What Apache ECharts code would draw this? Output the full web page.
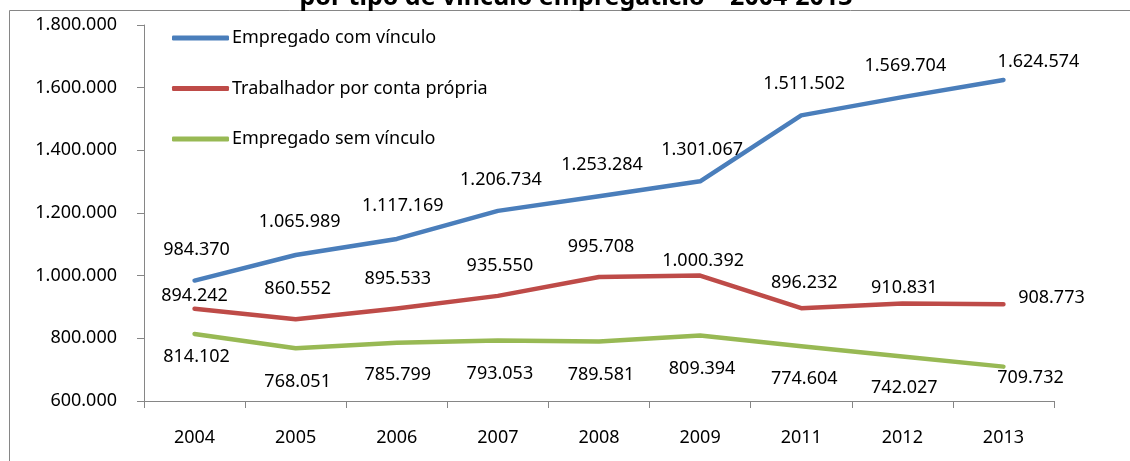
<!DOCTYPE html>
<html>
<head>
<meta charset="utf-8">
<script src="https://cdn.jsdelivr.net/npm/echarts@6/dist/echarts.min.js"></script>
<style>
html,body{margin:0;padding:0;background:#fff;}
#chart{width:1130px;height:461px;}
</style>
</head>
<body>
<div id="chart"></div>
<script>
const categories = ['2004','2005','2006','2007','2008','2009','2011','2012','2013'];
const comVinculo = [984370, 1065989, 1117169, 1206734, 1253284, 1301067, 1511502, 1569704, 1624574];
const contaPropria = [894242, 860552, 895533, 935550, 995708, 1000392, 896232, 910831, 908773];
const semVinculo = [814102, 768051, 785799, 793053, 789581, 809394, 774604, 742027, 709732];
const seriesNames = ['Empregado com vínculo', 'Trabalhador por conta própria', 'Empregado sem vínculo'];
const titleText = 'por tipo de vínculo empregatício – 2004-2013';

// label offsets (style only)
const offBlue = [[2,-31],[4,-33],[6,-33],[3,-31],[3,-31],[2,-31],[3,-32],[3,-31],[35,-18]];
const offRed = [[0,-13],[2,-30],[1,-30],[2,-30],[2,-30],[3,-15],[3,-25],[2,-16],[48,-6]];
const offGreen = [[2,23],[2,34],[1,32],[2,33],[2,33],[2,33],[3,33],[2,31],[27,11]];

const FONT = '"Noto Sans", "Open Sans", sans-serif';
const fmt = v => String(v).replace(/\B(?=(\d{3})+(?!\d))/g, '.');

function mk(values, offs) {
  return values.map((v, i) => ({
    value: v,
    label: { offset: offs[i] }
  }));
}

function series(name, values, offs, color) {
  return {
    name: name,
    type: 'line',
    data: mk(values, offs),
    symbol: 'circle',
    symbolSize: 1,
    showSymbol: true,
    itemStyle: { color: color },
    lineStyle: { color: color, width: 4.5, cap: 'round', join: 'round' },
    label: {
      show: true,
      position: 'inside',
      formatter: p => fmt(p.value),
      color: '#000',
      fontFamily: FONT,
      fontSize: 18,
      lineHeight: 20
    },
    emphasis: { disabled: true },
    animation: false
  };
}

const chart = echarts.init(document.getElementById('chart'), null, { renderer: 'canvas' });
chart.setOption({
  animation: false,
  backgroundColor: '#fff',
  grid: { left: 144, right: 76, top: 25, bottom: 60, containLabel: false },
  legend: {
    orient: 'vertical',
    left: 167,
    top: 23,
    icon: 'roundRect',
    itemWidth: 57,
    itemHeight: 5,
    itemGap: 30.5,
    textStyle: { fontFamily: FONT, fontSize: 18, lineHeight: 20, color: '#000', padding: [0,0,0,-2] },
    data: seriesNames,
    selectedMode: false
  },
  xAxis: {
    type: 'category',
    data: categories,
    boundaryGap: true,
    axisLine: { lineStyle: { color: '#868686', width: 1 } },
    axisTick: { show: true, length: 7, lineStyle: { color: '#868686' } },
    axisLabel: { margin: 27, color: '#000', fontFamily: FONT, fontSize: 18, lineHeight: 20 },
    splitLine: { show: false }
  },
  yAxis: {
    type: 'value',
    min: 600000,
    max: 1800000,
    interval: 200000,
    axisLine: { show: true, lineStyle: { color: '#868686', width: 1 } },
    axisTick: { show: true, length: 7, lineStyle: { color: '#868686' } },
    axisLabel: { margin: 27, color: '#000', fontFamily: FONT, fontSize: 18, formatter: v => fmt(v) },
    splitLine: { show: false }
  },
  graphic: [
    {
      type: 'rect',
      shape: { x: 9.5, y: 10.5, width: 1300, height: 600 },
      style: { fill: 'none', stroke: '#868686', lineWidth: 1 },
      silent: true,
      z: -1
    },
    {
      type: 'text',
      x: 576,
      y: -2,
      style: {
        text: titleText,
        fill: '#000',
        font: 'bold 25px "Noto Sans", sans-serif',
        textAlign: 'center',
        textVerticalAlign: 'middle'
      },
      silent: true
    }
  ],
  series: [
    series(seriesNames[0], comVinculo, offBlue, '#4A7EBB'),
    series(seriesNames[1], contaPropria, offRed, '#BE4B48'),
    series(seriesNames[2], semVinculo, offGreen, '#98B954')
  ]
});
</script>
</body>
</html>
